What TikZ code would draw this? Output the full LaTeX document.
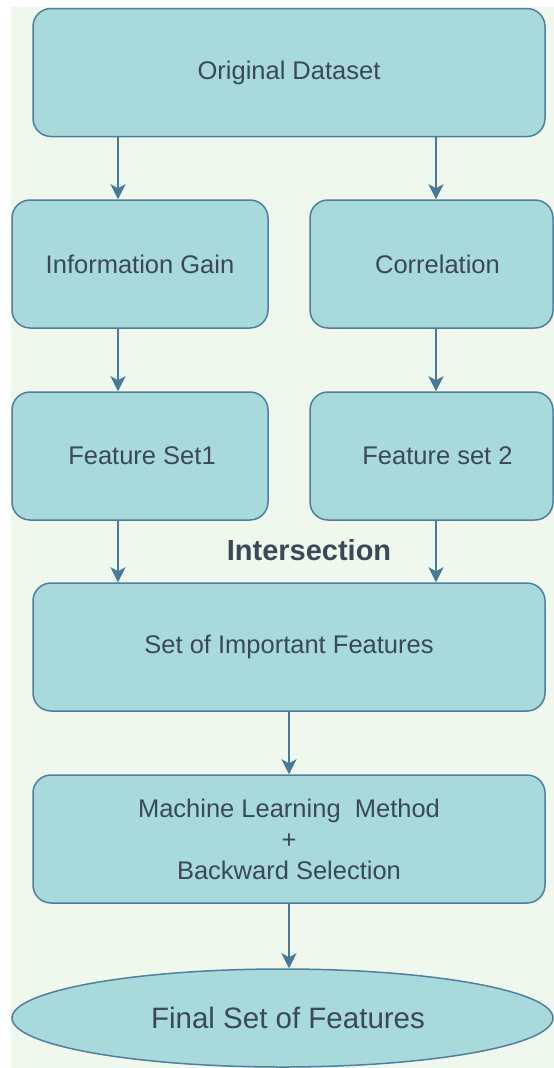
\documentclass[tikz,border=0pt]{standalone}
\usepackage{fontspec}
\setmainfont{Liberation Sans}
\usetikzlibrary{shapes.geometric,arrows.meta}
\definecolor{bgpanel}{HTML}{F0F8EE}
\definecolor{boxfill}{HTML}{A8D9DB}
\definecolor{boxline}{HTML}{4F7F9E}
\definecolor{arrowcol}{HTML}{457A9B}
\definecolor{txt}{HTML}{3A4858}
\tikzset{
  stepbox/.style={draw=boxline, fill=boxfill, line width=1.5pt, rounded corners=18pt,
    inner sep=0pt, text=txt, font=\fontsize{25.5}{31}\selectfont, align=center},
  wide/.style={stepbox, minimum width=512pt, minimum height=128pt},
  half/.style={stepbox, minimum width=256pt, minimum height=128pt},
  halfr/.style={stepbox, minimum width=243pt, minimum height=128pt},
  flow/.style={draw=arrowcol, line width=2pt, -{Stealth[length=15pt,width=15pt,inset=4pt]}},
}
\begin{document}
\begin{tikzpicture}[x=1pt,y=-1pt]
  \useasboundingbox (0,0) rectangle (554,1068);
  \begin{scope}
    \clip (0,0) rectangle (554,1068);
    % panel behind the flow chart
    \fill[bgpanel] (11,7) rectangle (554,1068);

    % arrow columns
    \coordinate (colL) at (118,0);
    \coordinate (colR) at (436,0);
    \coordinate (colM) at (289,0);

    \node[wide] (orig) at (289,72.5) {Original Dataset};
    \node[half] (ig) at (140,264) {Information Gain};
    \node[halfr] (corr) at (431.5,264) {\hspace*{12pt}Correlation};
    \node[half] (fs1) at (140,456) {\hspace*{4pt}Feature Set1};
    \node[halfr] (fs2) at (431.5,456) {\hspace*{12pt}Feature set 2};
    \node[text=txt, font=\fontsize{29}{34}\selectfont\bfseries] (inter) at (309,550) {Intersection};
    \node[wide] (imp) at (289,647) {Set of Important Features};
    \node[wide] (ml) at (289,839) {Machine Learning~ Method\\+\\Backward Selection};
    \node[ellipse, draw=boxline, fill=boxfill, line width=1.5pt, inner sep=0pt,
          minimum width=541pt, minimum height=98pt, text=txt,
          font=\fontsize{29.5}{34}\selectfont] (final) at (282.5,1018) {\hspace*{11pt}Final Set of Features};

    \draw[flow] (orig.south -| colL) -- (ig.north -| colL);
    \draw[flow] (orig.south -| colR) -- (corr.north -| colR);
    \draw[flow] (ig.south -| colL) -- (fs1.north -| colL);
    \draw[flow] (corr.south -| colR) -- (fs2.north -| colR);
    \draw[flow] (fs1.south -| colL) -- (imp.north -| colL);
    \draw[flow] (fs2.south -| colR) -- (imp.north -| colR);
    \draw[flow] (imp.south -| colM) -- (ml.north -| colM);
    \draw[flow] (ml.south -| colM) -- (final.north -| colM);
  \end{scope}
\end{tikzpicture}
\end{document}
